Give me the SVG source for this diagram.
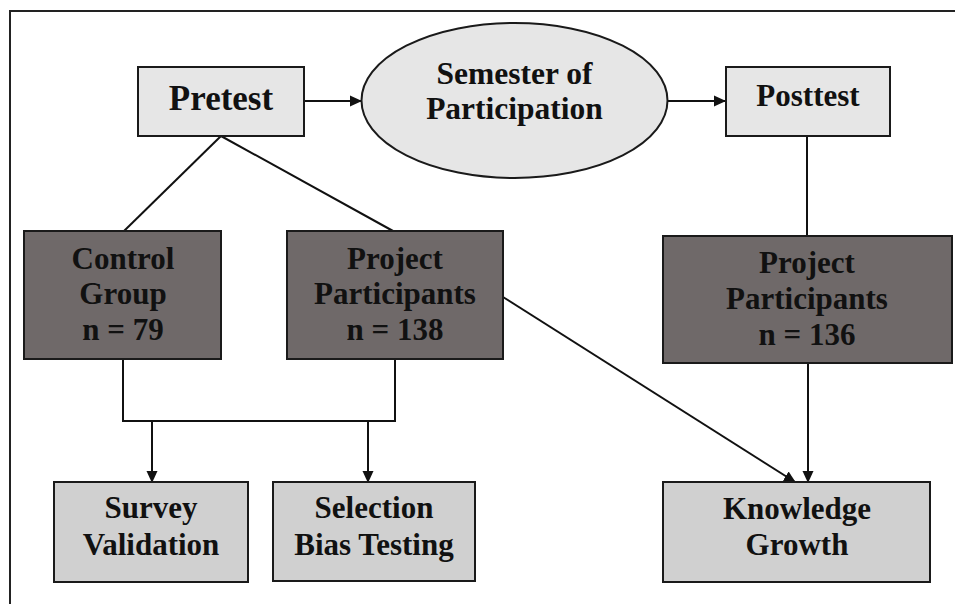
<svg xmlns="http://www.w3.org/2000/svg" width="955" height="604" viewBox="0 0 955 604">
<style>
.t{font-family:"Liberation Serif","Times New Roman",serif;font-weight:bold;fill:#111;text-anchor:middle}
.light{fill:#e6e6e6;stroke:#1a1a1a;stroke-width:2}
.mid{fill:#d0d0d0;stroke:#1a1a1a;stroke-width:2}
.dark{fill:#6f6969;stroke:#1a1a1a;stroke-width:2}
.c{fill:none;stroke:#111;stroke-width:2}
</style>
<defs>
<marker id="ah" markerWidth="12" markerHeight="12" refX="11" refY="6" orient="auto" markerUnits="userSpaceOnUse">
<path d="M0,0.5 L12,6 L0,11.5 Z" fill="#111"/>
</marker>
</defs>
<rect width="955" height="604" fill="#fff"/>
<g id="frame">
<path d="M10,604 L10,11 L955,11" fill="none" stroke="#222" stroke-width="2"/>
</g>
<g id="connectors">
<line class="c" x1="304" y1="101" x2="361" y2="101" marker-end="url(#ah)"/>
<line class="c" x1="668" y1="101" x2="725" y2="101" marker-end="url(#ah)"/>
<line class="c" x1="221" y1="136" x2="124" y2="231"/>
<line class="c" x1="221" y1="136" x2="393" y2="231"/>
<line class="c" x1="807" y1="136" x2="807" y2="236"/>
<path class="c" d="M123,359 L123,421 L395,421 L395,359"/>
<line class="c" x1="152" y1="421" x2="152" y2="482" marker-end="url(#ah)"/>
<line class="c" x1="368" y1="421" x2="368" y2="482" marker-end="url(#ah)"/>
<line class="c" x1="503" y1="297" x2="795" y2="482" marker-end="url(#ah)"/>
<line class="c" x1="808" y1="363" x2="808" y2="482" marker-end="url(#ah)"/>
</g>
<g id="pretest">
<rect class="light" x="138" y="67" width="166" height="69"/>
<text class="t" x="221" y="110" font-size="35">Pretest</text>
</g>
<g id="semester">
<ellipse class="light" cx="514.5" cy="100.5" rx="153" ry="77.5"/>
<text class="t" x="514.5" y="84" font-size="31.5">Semester of</text>
<text class="t" x="514.5" y="119" font-size="31.5">Participation</text>
</g>
<g id="posttest">
<rect class="light" x="726" y="67" width="164" height="69"/>
<text class="t" x="808" y="106" font-size="31">Posttest</text>
</g>
<g id="control">
<rect class="dark" x="24" y="231" width="197" height="128"/>
<text class="t" x="123" y="269" font-size="31">Control</text>
<text class="t" x="123" y="304" font-size="31">Group</text>
<text class="t" x="123" y="340" font-size="31">n = 79</text>
</g>
<g id="participants-pre">
<rect class="dark" x="287" y="231" width="216" height="128"/>
<text class="t" x="395" y="269" font-size="31">Project</text>
<text class="t" x="395" y="304" font-size="31">Participants</text>
<text class="t" x="395" y="340" font-size="31">n = 138</text>
</g>
<g id="participants-post">
<rect class="dark" x="663" y="236" width="289" height="127"/>
<text class="t" x="807" y="273" font-size="31">Project</text>
<text class="t" x="807" y="309" font-size="31">Participants</text>
<text class="t" x="807" y="345" font-size="31">n = 136</text>
</g>
<g id="survey">
<rect class="mid" x="54" y="482" width="194" height="100"/>
<text class="t" x="151" y="518" font-size="31">Survey</text>
<text class="t" x="151" y="555" font-size="31">Validation</text>
</g>
<g id="selection">
<rect class="mid" x="273" y="482" width="202" height="99"/>
<text class="t" x="374" y="518" font-size="31">Selection</text>
<text class="t" x="374" y="555" font-size="31">Bias Testing</text>
</g>
<g id="knowledge">
<rect class="mid" x="663" y="482" width="267" height="100"/>
<text class="t" x="797" y="519" font-size="31">Knowledge</text>
<text class="t" x="797" y="555" font-size="31">Growth</text>
</g>
</svg>
